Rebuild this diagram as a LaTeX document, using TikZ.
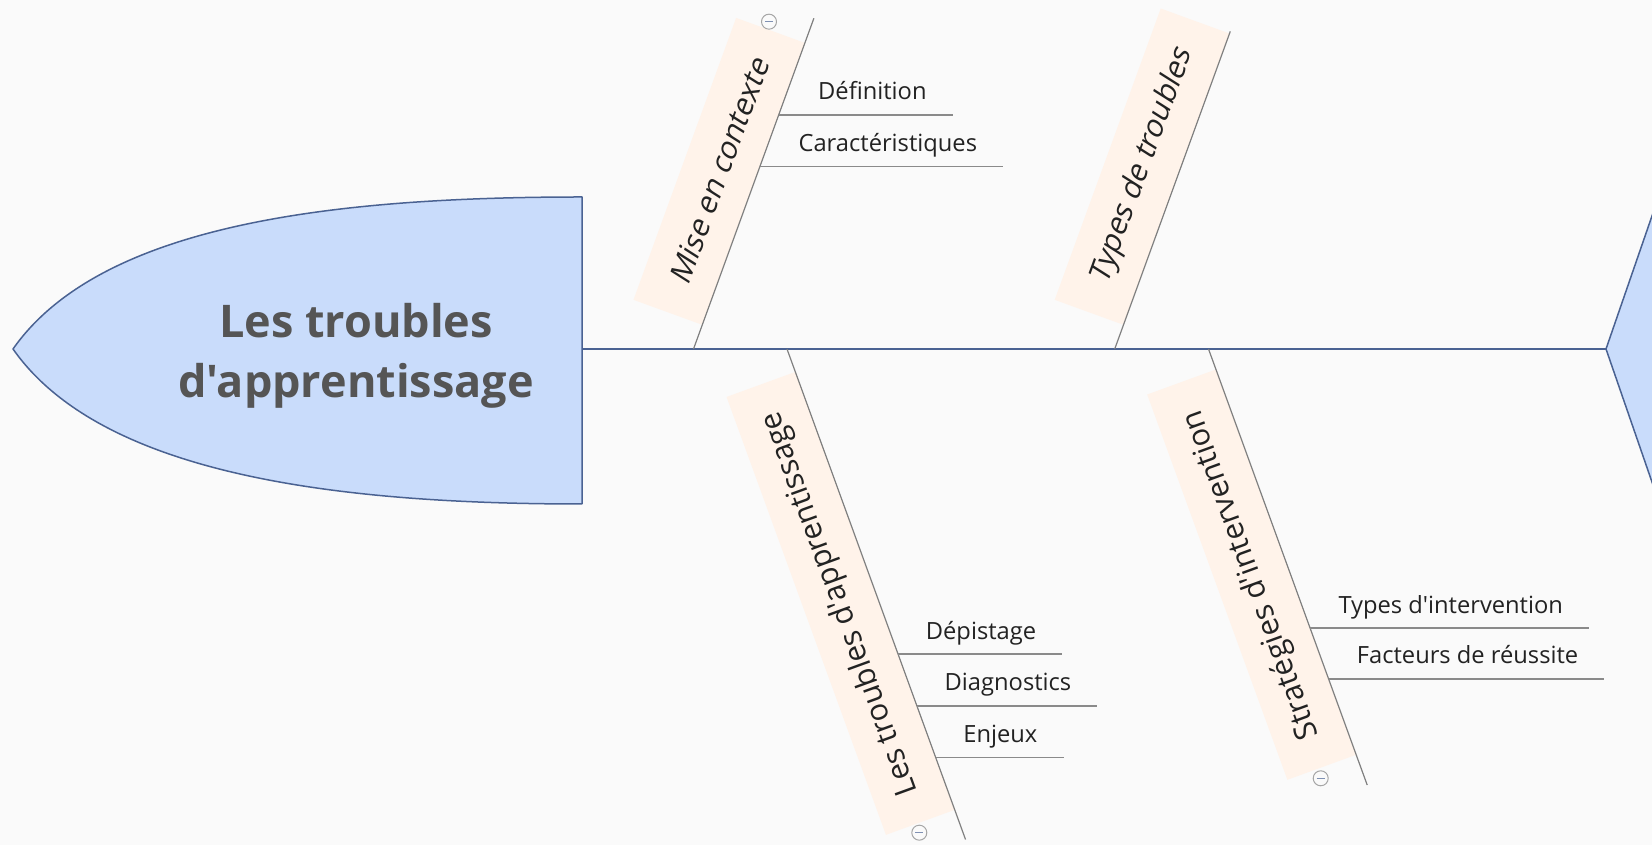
\documentclass[tikz,border=0pt]{standalone}
\usepackage{fontspec}
\setmainfont{Open Sans}[Ligatures=TeXOff]
\newfontfamily\slantfont{Open Sans}[FakeSlant=0.22, Ligatures=TeXOff]
\usetikzlibrary{calc}
\definecolor{bgc}{HTML}{FAFAFA}
\definecolor{headblue}{HTML}{C9DCFB}
\definecolor{spineblue}{HTML}{4A6292}
\definecolor{peach}{HTML}{FFF3EA}
\definecolor{bonegray}{HTML}{7F7F7F}
\definecolor{twiggray}{HTML}{8A8A8A}
\definecolor{headtext}{HTML}{555555}
\definecolor{labeltext}{HTML}{222222}
\tikzset{
  bone/.style={draw=bonegray, line width=1.2pt},
  twig/.style={draw=twiggray, line width=1.6pt},
  cause/.style={fill=peach, text=labeltext, inner sep=0pt, anchor=south west, minimum height=73pt},
  upcause/.style={cause, rotate=70, font=\fontsize{30}{34}\slantfont},
  downcause/.style={cause, rotate=110, font=\fontsize{30.5}{34}\selectfont},
  sub/.style={text=labeltext, font=\fontsize{23.7}{28}\selectfont, inner sep=0pt, anchor=base west},
  toggle/.style={circle, draw=gray!70, line width=1pt, minimum size=15pt, inner sep=0pt, fill=bgc},
}
\begin{document}
\begin{tikzpicture}[x=1pt, y=1pt, line join=round]
\fill[bgc] (0,0) rectangle (1652,845);
\clip (0,0) rectangle (1652,845);
% head and tail
\draw[fill=headblue, draw=spineblue, line width=1.5pt] (13,496) .. controls (100,620) and (330,648) .. (582,648) -- (582,341) .. controls (330,341) and (100,372) .. (13,496) -- cycle;
\node[font=\fontsize{45}{60}\selectfont\bfseries, text=headtext, align=center] (head) at (356,489) {Les troubles\\d'apprentissage};
\draw[fill=headblue, draw=spineblue, line width=1.5pt] (1700,768) -- (1606,496) -- (1700,224);
% spine
\coordinate (neck) at (582,496);
\coordinate (tail) at (1606,496);
\draw[spineblue, line width=2pt] (neck) -- (tail);
% bones
\coordinate (s1) at (693.5,496);
\coordinate (e1) at ($(s1)+(70:352)$);
\coordinate (s2) at (1114.7,496);
\coordinate (e2) at ($(s2)+(70:338)$);
\coordinate (s3) at (787,496);
\coordinate (e3) at ($(s3)+(-70:522)$);
\coordinate (s4) at (1208.5,496);
\coordinate (e4) at ($(s4)+(-70:464)$);
\node[upcause, minimum width=300pt] (mise) at ($(s1)+(70:25.5)$) {Mise en contexte};
\node[upcause, minimum width=310pt] (types) at ($(s2)+(70:25.5)$) {Types de troubles};
\node[downcause, minimum width=466pt] (ltda) at ($(s3)+(-70:490.6)$) {Les troubles d'apprentissage};
\node[downcause, minimum width=410pt] (strat) at ($(s4)+(-70:432)$) {Stratégies d'intervention};
\foreach \b in {1,2,3,4} \draw[bone] (s\b) -- (e\b);
% sub-causes
\node[sub] (def) at (818,745) {Définition};
\node[sub] (car) at (798.4,693.5) {Caractéristiques};
\node[sub] (dep) at (925.7,205.7) {Dépistage};
\node[sub] (diag) at (944.5,154) {Diagnostics};
\node[sub] (enj) at (963.2,102.5) {Enjeux};
\node[sub] (tdi) at (1338.3,231.7) {Types d'intervention};
\node[sub] (fdr) at (1356.7,181.7) {Facteurs de réussite};
\coordinate (def0) at (778.7,730);
\coordinate (car0) at (759.9,678.5);
\coordinate (dep0) at (898.1,190.7);
\coordinate (diag0) at (917,139);
\coordinate (enj0) at (935.7,87.5);
\coordinate (tdi0) at (1310.2,216.7);
\coordinate (fdr0) at (1328.7,165.7);
\foreach \n in {def,car,dep,diag,enj,tdi,fdr}
  \draw[twig] (\n0) -- ($(\n0 -| \n.east)+(26,0)$);
% collapse marks
\node[toggle] (t1) at (769,823.3) {};
\node[toggle] (t3) at (919.3,12.3) {};
\node[toggle] (t4) at (1320.7,66.7) {};
\foreach \t in {t1,t3,t4}
  \draw[spineblue!70, line width=1pt] ([xshift=-4pt]\t.center) -- ([xshift=4pt]\t.center);
\end{tikzpicture}
\end{document}
